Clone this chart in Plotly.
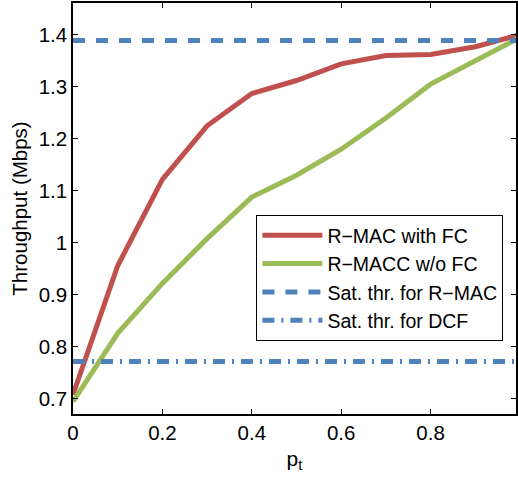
import plotly.graph_objects as go

# Transmission probability p_t
p_t = [0.0, 0.1, 0.2, 0.3, 0.4, 0.5, 0.6, 0.7, 0.8, 0.9, 1.0]

# Throughput (Mbps)
rmac_fc = [0.708, 0.956, 1.122, 1.225, 1.287, 1.312, 1.344, 1.360, 1.362, 1.377, 1.400]
rmacc_nofc = [0.695, 0.826, 0.922, 1.008, 1.088, 1.130, 1.180, 1.240, 1.305, 1.350, 1.395]

# Saturation throughput references
sat_rmac = 1.389
sat_dcf = 0.772

x_ticks = [0, 0.2, 0.4, 0.6, 0.8]
x_tick_text = ["0", "0.2", "0.4", "0.6", "0.8"]
y_ticks = [0.7, 0.8, 0.9, 1.0, 1.1, 1.2, 1.3, 1.4]
y_tick_text = ["0.7", "0.8", "0.9", "1", "1.1", "1.2", "1.3", "1.4"]

RED = "#C0504D"
GREEN = "#9BBB59"
BLUE = "#4F81BD"
FONT = "Liberation Sans, Arial, sans-serif"

fig = go.Figure()
fig.add_trace(go.Scatter(x=p_t, y=rmac_fc, mode="lines", name="R\u2212MAC with FC",
                         line=dict(color=RED, width=5)))
fig.add_trace(go.Scatter(x=p_t, y=rmacc_nofc, mode="lines", name="R\u2212MACC w/o FC",
                         line=dict(color=GREEN, width=5)))
fig.add_trace(go.Scatter(x=[p_t[0], p_t[-1]], y=[sat_rmac, sat_rmac], mode="lines",
                         name="Sat. thr. for R\u2212MAC",
                         line=dict(color=BLUE, width=5, dash="12px,11px")))
fig.add_trace(go.Scatter(x=[p_t[0], p_t[-1]], y=[sat_dcf, sat_dcf], mode="lines",
                         name="Sat. thr. for DCF",
                         line=dict(color=BLUE, width=5, dash="12px,7px,2px,7px")))

axis_common = dict(
    showgrid=False, zeroline=False, showline=True, linecolor="black", linewidth=1.5,
    mirror="ticks", ticks="inside", ticklen=5, tickcolor="black",
    tickfont=dict(family=FONT, size=20.5, color="black"),
)

fig.update_layout(
    width=518, height=478,
    margin=dict(l=73, r=0, t=3, b=64),
    paper_bgcolor="white", plot_bgcolor="white",
    font=dict(family=FONT, size=19, color="black"),
    showlegend=True,
    legend=dict(
        x=0.414, y=0.484, xanchor="left", yanchor="top",
        bgcolor="white", bordercolor="black", borderwidth=1,
        font=dict(family=FONT, size=19.5, color="black"),
        itemwidth=60, tracegroupgap=0,
    ),
    xaxis=dict(range=[0, 0.991], tickvals=x_ticks, ticktext=x_tick_text,
               title=dict(text="p<sub>t</sub>", font=dict(family=FONT, size=21), standoff=8),
               **axis_common),
    yaxis=dict(range=[0.671, 1.461], tickvals=y_ticks, ticktext=y_tick_text,
               title=dict(text="Throughput (Mbps)", font=dict(family=FONT, size=20.5), standoff=5),
               **axis_common),
)

fig.write_html("out.html")
